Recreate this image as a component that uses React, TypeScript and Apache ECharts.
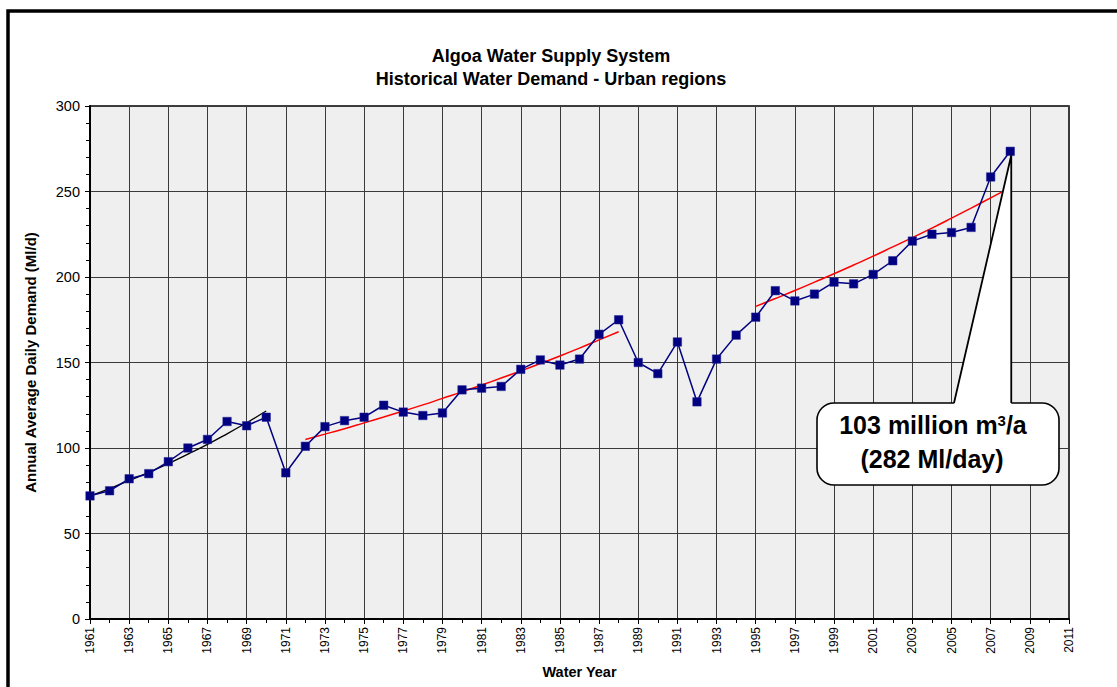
import React, { useEffect, useRef } from "react";
import * as echarts from "echarts";

const years: number[] = [
  1961, 1962, 1963, 1964, 1965, 1966, 1967, 1968, 1969, 1970,
  1971, 1972, 1973, 1974, 1975, 1976, 1977, 1978, 1979, 1980,
  1981, 1982, 1983, 1984, 1985, 1986, 1987, 1988, 1989, 1990,
  1991, 1992, 1993, 1994, 1995, 1996, 1997, 1998, 1999, 2000,
  2001, 2002, 2003, 2004, 2005, 2006, 2007, 2008,
];
const demand: number[] = [
  72, 75, 82, 85, 92, 100, 105, 115.5, 113, 118,
  85.5, 101, 112.5, 116, 118, 125, 121, 119, 120.5, 134,
  135, 136, 146, 151.5, 148.5, 152, 166.5, 175, 150, 143.5,
  162, 127, 152, 166, 176.5, 192, 186, 190, 197, 196,
  201.5, 209.5, 221, 225, 226, 229, 258.5, 273.5,
];

const trendAYears: number[] = [1961, 1962, 1963, 1964, 1965, 1966, 1967, 1968, 1969, 1970];
const trendAValues: number[] = [72, 76.3, 80.9, 85.8, 90.9, 96.4, 102.1, 108.3, 114.8, 121.6];

const trendBYears: number[] = [
  1972, 1973, 1974, 1975, 1976, 1977, 1978, 1979, 1980, 1981, 1982, 1983, 1984, 1985, 1986, 1987, 1988,
];
const trendBValues: number[] = [
  105, 108.1, 111.3, 114.7, 118.1, 121.6, 125.2, 129.0, 132.8, 136.8, 140.9, 145.1, 149.4, 153.8, 158.4, 163.2, 168.0,
];

const trendCYears: number[] = [
  1995, 1996, 1997, 1998, 1999, 2000, 2001, 2002, 2003, 2004, 2005, 2006, 2007, 2007.7,
];
const trendCValues: number[] = [
  182.8, 187.4, 192.1, 197.0, 201.9, 207.0, 212.2, 217.6, 223.0, 228.6, 234.4, 240.3, 246.3, 250.5,
];

const titleLines: string[] = ["Algoa Water Supply System", "Historical Water Demand - Urban regions"];
const yAxisTitle = "Annual Average Daily Demand (Ml/d)";
const xAxisTitle = "Water Year";
const calloutLine1 = ["103 million m", "3", "/a"];
const calloutLine2 = "(282 Ml/day)";

const FONT = "'Liberation Sans', Arial, Helvetica, sans-serif";

const pairs = (xs: number[], ys: number[]) => xs.map((x, i) => [x, ys[i]]);

export default function App() {
  const ref = useRef<HTMLDivElement>(null);

  useEffect(() => {
    document.body.style.margin = "0";
    if (!ref.current) return;
    const chart = echarts.init(ref.current, null, { renderer: "svg" });

    const option: any = {
      animation: false,
      backgroundColor: "#ffffff",
      textStyle: { fontFamily: FONT },
      grid: {
        left: 90,
        right: 48,
        top: 106,
        bottom: 68,
        outerBoundsMode: "none",
        containLabel: false,
        show: true,
        backgroundColor: "#efefef",
        borderColor: "#000",
        borderWidth: 1.5,
      },
      xAxis: {
        type: "value",
        min: 1961,
        max: 2011,
        interval: 2,
        name: xAxisTitle,
        nameLocation: "middle",
        nameGap: 45,
        nameTextStyle: { fontFamily: FONT, fontWeight: "bold", fontSize: 14.5, color: "#000" },
        axisLine: { show: true, onZero: false, lineStyle: { color: "#000", width: 2 } },
        axisTick: { show: true, length: 5, lineStyle: { color: "#000", width: 1 } },
        minorTick: { show: true, splitNumber: 2, length: 4, lineStyle: { color: "#000", width: 1 } },
        splitLine: { show: true, lineStyle: { color: "#3a3a3a", width: 1 } },
        axisLabel: {
          rotate: 90,
          margin: 8,
          fontFamily: FONT,
          fontSize: 12,
          color: "#000",
          formatter: (v: number) => String(v),
        },
      },
      yAxis: {
        type: "value",
        min: 0,
        max: 300,
        interval: 50,
        name: yAxisTitle,
        nameLocation: "middle",
        nameGap: 52,
        nameTextStyle: { fontFamily: FONT, fontWeight: "bold", fontSize: 15, color: "#000" },
        axisLine: { show: true, lineStyle: { color: "#000", width: 2 } },
        axisTick: { show: true, length: 5, lineStyle: { color: "#000", width: 1 } },
        minorTick: { show: true, splitNumber: 5, length: 4, lineStyle: { color: "#000", width: 1 } },
        splitLine: { show: true, lineStyle: { color: "#3a3a3a", width: 1 } },
        axisLabel: { margin: 10, fontFamily: FONT, fontSize: 14.5, color: "#000" },
      },
      series: [
        {
          type: "line",
          name: "Trend 1961-1970",
          data: pairs(trendAYears, trendAValues),
          symbol: "none",
          smooth: true,
          lineStyle: { color: "#000", width: 1.3 },
          z: 2,
        },
        {
          type: "line",
          name: "Trend 1972-1988",
          data: pairs(trendBYears, trendBValues),
          symbol: "none",
          smooth: true,
          lineStyle: { color: "#ff0000", width: 1.5 },
          z: 2,
        },
        {
          type: "line",
          name: "Trend 1995-2008",
          data: pairs(trendCYears, trendCValues),
          symbol: "none",
          smooth: true,
          lineStyle: { color: "#ff0000", width: 1.5 },
          z: 2,
        },
        {
          type: "line",
          name: "Demand",
          data: pairs(years, demand),
          symbol: "rect",
          symbolSize: 8.5,
          itemStyle: { color: "#000080", borderColor: "#2a2a9a", borderWidth: 0.5 },
          lineStyle: { color: "#000080", width: 1.5 },
          z: 3,
        },
      ],
    };
    chart.setOption(option);

    const lastX = years[years.length - 1];
    const lastY = demand[demand.length - 1];
    const tip = chart.convertToPixel({ gridIndex: 0 }, [lastX, lastY]) as number[];
    const tipX = tip[0] + 1;
    const tipY = tip[1] + 4;

    const boxX = 817;
    const boxY = 403;
    const boxW = 242;
    const boxH = 82;
    const baseLeft = 954;

    chart.setOption({
      graphic: [
        {
          type: "rect",
          z: 100,
          silent: true,
          shape: { x: 8, y: 11, width: 1140, height: 720 },
          style: { fill: "none", stroke: "#000", lineWidth: 3.5 },
        },
        {
          type: "text",
          z: 100,
          x: 551,
          y: 56,
          style: {
            text: titleLines[0],
            fontFamily: FONT,
            fontWeight: "bold",
            fontSize: 18,
            fill: "#000",
            align: "center",
            verticalAlign: "middle",
          },
        },
        {
          type: "text",
          z: 100,
          x: 551,
          y: 79,
          style: {
            text: titleLines[1],
            fontFamily: FONT,
            fontWeight: "bold",
            fontSize: 18,
            fill: "#000",
            align: "center",
            verticalAlign: "middle",
          },
        },
        {
          type: "rect",
          z: 100,
          shape: { x: boxX, y: boxY, width: boxW, height: boxH, r: 17 },
          style: { fill: "#ffffff", stroke: "#000", lineWidth: 1.6 },
        },
        {
          type: "polygon",
          z: 101,
          shape: { points: [[baseLeft, boxY + 1.5], [tipX, tipY], [tipX, boxY + 1.5]] },
          style: { fill: "#ffffff", stroke: "none" },
        },
        {
          type: "polyline",
          z: 102,
          shape: { points: [[baseLeft, boxY], [tipX, tipY], [tipX, boxY]] },
          style: { fill: "none", stroke: "#000", lineWidth: 1.8 },
        },
        {
          type: "text",
          z: 103,
          x: 933,
          y: 425,
          style: {
            text: "{a|" + calloutLine1[0] + "}{s|" + calloutLine1[1] + "}{a|" + calloutLine1[2] + "}",
            align: "center",
            verticalAlign: "middle",
            fill: "#000",
            rich: {
              a: { fontFamily: FONT, fontWeight: "bold", fontSize: 25, fill: "#000", verticalAlign: "bottom" },
              s: { fontFamily: FONT, fontWeight: "bold", fontSize: 15, fill: "#000", verticalAlign: "top" },
            },
          },
        },
        {
          type: "text",
          z: 103,
          x: 932,
          y: 459,
          style: {
            text: calloutLine2,
            fontFamily: FONT,
            fontWeight: "bold",
            fontSize: 25,
            fill: "#000",
            align: "center",
            verticalAlign: "middle",
          },
        },
      ],
    });

    return () => {
      chart.dispose();
    };
  }, []);

  return <div ref={ref} style={{ width: 1117, height: 687 }} />;
}
